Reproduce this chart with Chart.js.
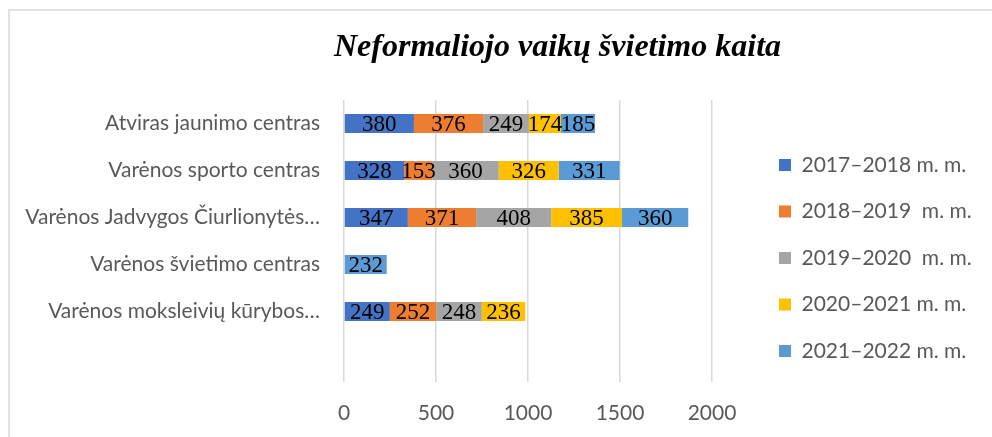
<!DOCTYPE html>
<html><head><meta charset="utf-8">
<script src="https://cdn.jsdelivr.net/npm/chart.js@4.4.0/dist/chart.umd.min.js"></script>
<style>html,body{margin:0;padding:0;background:#fff;overflow:hidden}#wrap{width:992px;height:437px;position:relative}</style>
</head><body><div id="wrap"><canvas id="c" width="992" height="437"></canvas></div>
<script>
const categories = ['Atviras jaunimo centras','Varėnos sporto centras','Varėnos Jadvygos Čiurlionytės…','Varėnos švietimo centras','Varėnos moksleivių kūrybos…',''];
const seriesNames = ['2017–2018 m. m.','2018–2019  m. m.','2019–2020  m. m.','2020–2021 m. m.','2021–2022 m. m.'];
const s2017 = [380,328,347,null,249,null];
const s2018 = [376,153,371,null,252,null];
const s2019 = [249,360,408,null,248,null];
const s2020 = [174,326,385,null,236,null];
const s2021 = [185,331,360,232,null,null];
const xTicks = [0,500,1000,1500,2000];
const colors = ['#4472C4','#ED7D31','#A5A5A5','#FFC000','#5B9BD5'];
const titleText = 'Neformaliojo vaikų švietimo kaita';

const AXIS_FONT = 'Lato';
const LEG_SIZE = 21, LEG_PAD = 25.5, LEG_BOX = 12;
const CA = {left:344, right:712, top:100, bottom:382};
const LEG_LEFT = 779 - LEG_PAD, LEG_TOP = 165 - LEG_SIZE/2 - LEG_PAD;

const allSeries = [s2017, s2018, s2019, s2020, s2021];

const decor = {
  id: 'decor',
  beforeDraw(chart){
    const ctx = chart.ctx; ctx.save();
    ctx.strokeStyle = '#d9d9d9'; ctx.lineWidth = 1.5;
    ctx.strokeRect(9, 10, 1200, 1000);
    ctx.restore();
  },
  afterLayout(chart){
    const lg = chart.legend;
    if (!lg) return;
    const w = lg.width, h = lg.height;
    lg.left = LEG_LEFT; lg.right = LEG_LEFT + w;
    lg.top = LEG_TOP; lg.bottom = LEG_TOP + h;
  },
  afterDatasetsDraw(chart){
    const ctx = chart.ctx; ctx.save();
    ctx.font = '23px "Liberation Serif"'; ctx.fillStyle = '#000';
    ctx.textAlign = 'center'; ctx.textBaseline = 'middle';
    chart.data.datasets.forEach((ds, i) => {
      const meta = chart.getDatasetMeta(i);
      meta.data.forEach((el, j) => {
        const v = ds.data[j]; if (v == null) return;
        const p = el.getCenterPoint();
        ctx.fillText(String(v), p.x, p.y + 1);
      });
    });
    ctx.restore();
  },
  afterDraw(chart){
    const ctx = chart.ctx; ctx.save();
    ctx.font = 'italic bold 32px "Liberation Serif"'; ctx.fillStyle = '#000';
    ctx.textAlign = 'center'; ctx.textBaseline = 'alphabetic';
    ctx.fillText(titleText, 557.5, 56);
    ctx.restore();
  }
};

const chart = new Chart(document.getElementById('c'), {
  type: 'bar',
  data: {
    labels: categories,
    datasets: allSeries.map((d, i) => ({
      label: seriesNames[i], data: d, backgroundColor: colors[i], borderWidth: 0,
      barPercentage: 0.4, categoryPercentage: 1.0
    }))
  },
  options: {
    indexAxis: 'y', responsive: false, animation: false, devicePixelRatio: 1,
    layout: {padding: {top: CA.top, left: 0, right: 40, bottom: 0}},
    plugins: {
      title: {display: false}, tooltip: {enabled: false},
      legend: {
        display: true, position: 'right', align: 'start',
        labels: {boxWidth: LEG_BOX, boxHeight: LEG_BOX, padding: LEG_PAD, color: '#595959',
          font: {family: AXIS_FONT, size: LEG_SIZE}}
      }
    },
    scales: {
      x: {
        stacked: true, min: 0, max: 2000,
        afterBuildTicks: s => { s.ticks = xTicks.map(v => ({value: v})); },
        afterFit: s => { s.height = 437 - CA.bottom; },
        ticks: {color: '#595959', font: {family: AXIS_FONT, size: 21}, padding: 19, callback: v => String(v)},
        grid: {color: '#d9d9d9', lineWidth: 1.5, drawTicks: false},
        border: {display: false}
      },
      y: {
        stacked: true,
        afterFit: s => { s.width = CA.left; },
        ticks: {color: '#595959', font: {family: AXIS_FONT, size: 21}, padding: 24, autoSkip: false},
        grid: {display: false, drawTicks: false},
        border: {display: false}
      }
    }
  },
  plugins: [decor]
});
// adjust right padding so the plot area ends at the 2000 gridline position of the reference
const diff = chart.chartArea.right - CA.right;
if (Math.abs(diff) > 0.5) {
  chart.options.layout.padding.right = 40 + diff;
  chart.update();
}
</script></body></html>
